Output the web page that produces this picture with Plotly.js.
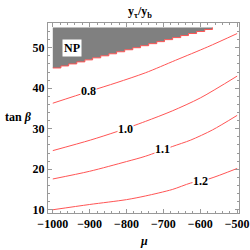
<!DOCTYPE html>
<html><head><meta charset="utf-8">
<script src="https://cdn.plot.ly/plotly-3.0.1.min.js"></script>
<style>html,body{margin:0;padding:0;background:#fff;}#plot{width:250px;height:250px;}</style>
</head><body><div id="plot"></div>
<script>
// Contour lines of y_tau/y_b in the (mu, tan beta) plane
const mu08 = [-1000, -902, -826, -749, -667, -580, -500];
const tb08 = [36.3, 39.2, 41.4, 43.8, 46.9, 50.2, 53.5];
const mu10 = [-1000, -898, -826, -749, -676, -600, -500];
const tb10 = [24.6, 27.2, 29.3, 31.8, 34.4, 37.6, 43.0];
const mu11 = [-1000, -900, -800, -749, -676, -626, -567, -500];
const tb11 = [17.6, 19.5, 21.9, 23.2, 25.6, 27.2, 29.7, 33.3];
const mu12 = [-1000, -900, -800, -749, -676, -626, -577, -500];
const tb12 = [10.0, 11.3, 12.5, 13.4, 15.0, 16.6, 17.6, 20.2];
const contourLabels = ["0.8", "1.0", "1.1", "1.2"];
const labelMu = [-902, -803, -702, -600];
const labelTb = [39.2, 30.0, 24.9, 17.2];
// NP (non-perturbative) region boundary (staircase)
const npMu = [-1000, -978, -957, -935, -913, -892, -870, -848, -827, -805, -783, -762, -740, -718, -697, -675, -653, -632, -610, -588, -567];
const npTb = [45.0, 45.5, 46.0, 46.5, 47.0, 47.5, 48.0, 48.5, 49.0, 49.5, 50.0, 50.5, 51.0, 51.5, 52.0, 52.5, 53.0, 53.5, 54.0, 54.5, 55.0];
const npTop = 55.0;

const red = 'rgb(255,85,85)';
const serif = 'Liberation Serif, Times New Roman, serif';

const traces = [];
traces.push({
  x: npMu.concat([npMu[npMu.length-1], npMu[0]]),
  y: npTb.concat([npTop, npTop]),
  mode: 'lines', line: {shape: 'hv', width: 0, color: 'rgb(128,128,128)'},
  fill: 'toself', fillcolor: 'rgb(128,128,128)', hoverinfo: 'skip', showlegend: false
});
traces.push({x: npMu, y: npTb, mode: 'lines', line: {shape: 'hv', width: 1, color: red}, showlegend: false});
[[mu08, tb08], [mu10, tb10], [mu11, tb11], [mu12, tb12]].forEach(([mx, ty]) => {
  traces.push({x: mx, y: ty, mode: 'lines', line: {shape: 'spline', smoothing: 0.8, width: 1, color: red}, showlegend: false});
});

const annotations = contourLabels.map((t, i) => ({
  x: labelMu[i], y: labelTb[i], text: '<b>' + t + '</b>', showarrow: false,
  bgcolor: '#fff', borderpad: 0, font: {family: serif, size: 12, color: '#000'}
}));
annotations.push({x: -949, y: 50, text: '<b>NP</b>', showarrow: false, bgcolor: '#fff', borderpad: 1,
  font: {family: serif, size: 12, color: '#000'}});
annotations.push({xref: 'paper', yref: 'y', x: -0.075, y: 32.9, xanchor: 'right', text: '<b>tan <i>β</i></b>',
  showarrow: false, font: {family: serif, size: 12, color: '#000'}});
annotations.push({xref: 'paper', yref: 'paper', x: 0.5, y: -0.1, yanchor: 'top', text: '<b><i>μ</i></b>',
  showarrow: false, font: {family: serif, size: 12, color: '#000'}});

const axisCommon = {
  showgrid: false, zeroline: false, showline: true, linecolor: '#999', linewidth: 1, mirror: 'ticks',
  ticks: 'inside', ticklen: 4, tickcolor: '#999', tickwidth: 1,
  tickfont: {family: serif, size: 12, color: '#000', weight: 'bold'}
};
const layout = {
  width: 250, height: 250, margin: {l: 48, r: 11, t: 23, b: 37},
  paper_bgcolor: '#fff', plot_bgcolor: '#fff',
  title: {text: '<b>y<sub>τ</sub>/y<sub>b</sub></b>', x: 0.56, xanchor: 'center', y: 0.955, yanchor: 'middle',
    font: {family: serif, size: 12, color: '#000'}},
  xaxis: Object.assign({}, axisCommon, {range: [-1013, -495], tickvals: [-1000, -900, -800, -700, -600, -500],
    ticktext: ['−1000', '−900', '−800', '−700', '−600', '−500'],
    minor: {dtick: 20, tick0: -1000, ticks: 'inside', ticklen: 2, tickcolor: '#999'}}),
  yaxis: Object.assign({}, axisCommon, {range: [9.2, 56.1], tickvals: [10, 20, 30, 40, 50],
    minor: {dtick: 2, tick0: 10, ticks: 'inside', ticklen: 2, tickcolor: '#999'}}),
  annotations: annotations
};
Plotly.newPlot('plot', traces, layout, {staticPlot: true, displayModeBar: false});
</script></body></html>
